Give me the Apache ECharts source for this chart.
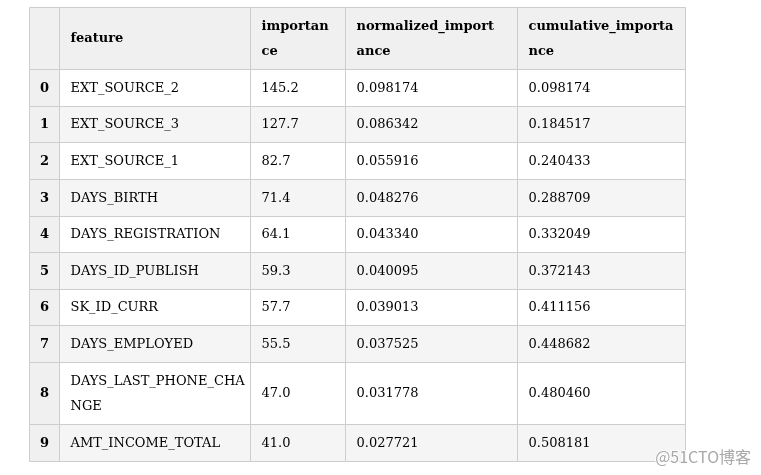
<!DOCTYPE html>
<html><head><meta charset="utf-8">
<script src="https://cdn.jsdelivr.net/npm/echarts@6/dist/echarts.min.js"></script>
<style>html,body{margin:0;padding:0;background:#fff}#c{width:761px;height:475px}</style>
</head><body><div id="c"></div>
<script>
// ---- data ----
var headers = ['', 'feature', 'importance', 'normalized_importance', 'cumulative_importance'];
var rowIndex = [0,1,2,3,4,5,6,7,8,9];
var features = ['EXT_SOURCE_2','EXT_SOURCE_3','EXT_SOURCE_1','DAYS_BIRTH','DAYS_REGISTRATION','DAYS_ID_PUBLISH','SK_ID_CURR','DAYS_EMPLOYED','DAYS_LAST_PHONE_CHANGE','AMT_INCOME_TOTAL'];
var importance = [145.2,127.7,82.7,71.4,64.1,59.3,57.7,55.5,47.0,41.0];
var normalized = [0.098174,0.086342,0.055916,0.048276,0.043340,0.040095,0.039013,0.037525,0.031778,0.027721];
var cumulative = [0.098174,0.184517,0.240433,0.288709,0.332049,0.372143,0.411156,0.448682,0.480460,0.508181];

// ---- layout ----
var colEdges = [0, 30, 221.4, 316, 488, 656];
var wrapW = [30, 175, 72, 145, 150];
var PAD = 11, LINE = 25.6, BASE = 11.0;
var FONT = '13px "DejaVu Serif"', BFONT = 'bold 13px "DejaVu Serif"';

var cv = document.createElement('canvas').getContext('2d');
function wrap(text, w, font) {
  cv.font = font;
  var lines = [], cur = '';
  for (var i = 0; i < text.length; i++) {
    var t = cur + text[i];
    if (cur && cv.measureText(t).width > w) { lines.push(cur); cur = text[i]; }
    else cur = t;
  }
  lines.push(cur);
  return lines;
}

var table = [headers.map(function(h){return h;})];
rowIndex.forEach(function(r, i) {
  table.push([String(r), features[i], importance[i].toFixed(1), normalized[i].toFixed(6), cumulative[i].toFixed(6)]);
});
var wrapped = table.map(function(row, r) {
  return row.map(function(txt, c) { return wrap(txt, wrapW[c], (r === 0 || c === 0) ? BFONT : FONT); });
});
var rowEdges = [0];
wrapped.forEach(function(row) {
  var n = Math.max.apply(null, row.map(function(l){return l.length;}));
  rowEdges.push(rowEdges[rowEdges.length-1] + BASE + n * LINE);
});
var totalH = rowEdges[rowEdges.length-1];

var cells = [];
for (var r = 0; r < table.length; r++) for (var c = 0; c < headers.length; c++) cells.push([c, r]);

function cellFill(c, r) {
  if (r === 0 || c === 0) return '#f0f0f0';
  return (r - 1) % 2 === 1 ? '#f5f5f5' : '#ffffff';
}

var chart = echarts.init(document.getElementById('c'), null, {renderer: 'canvas'});
chart.setOption({
  backgroundColor: '#fff',
  animation: false,
  grid: {left: 29, top: 7, width: 656, height: totalH},
  xAxis: {type: 'value', min: 0, max: 656, show: false},
  yAxis: {type: 'value', min: 0, max: totalH, inverse: true, show: false},
  series: [{
    type: 'custom',
    coordinateSystem: 'cartesian2d',
    data: cells,
    renderItem: function(params, api) {
      var c = api.value(0), r = api.value(1);
      var p0 = api.coord([colEdges[c], rowEdges[r]]);
      var p1 = api.coord([colEdges[c+1], rowEdges[r+1]]);
      var x0 = Math.round(p0[0]) + 0.5, y0 = Math.round(p0[1]) + 0.5;
      var x1 = Math.round(p1[0]) + 0.5, y1 = Math.round(p1[1]) + 0.5;
      var lines = wrapped[r][c];
      var bold = (r === 0 || c === 0);
      var tx = c === 0 ? (x0 + x1) / 2 : x0 + PAD;
      return {
        type: 'group',
        children: [
          {type: 'rect', shape: {x: x0, y: y0, width: x1 - x0, height: y1 - y0},
           style: {fill: cellFill(c, r), stroke: '#cdcdcd', lineWidth: 1}},
          {type: 'text', style: {
            text: lines.join('\n'), x: tx, y: (y0 + y1) / 2 + 0.5,
            align: c === 0 ? 'center' : 'left', verticalAlign: 'middle',
            font: bold ? BFONT : FONT, lineHeight: LINE, fill: '#000'
          }, z2: 10}
        ]
      };
    }
  }],
  graphic: [{
    type: 'text', right: 9, bottom: 9, z: 100,
    style: {text: '@51CTO博客', font: '16px "Noto Sans CJK SC"', fill: '#a8a8a8',
            stroke: '#ffffff', lineWidth: 2}
  }]
});
</script></body></html>
